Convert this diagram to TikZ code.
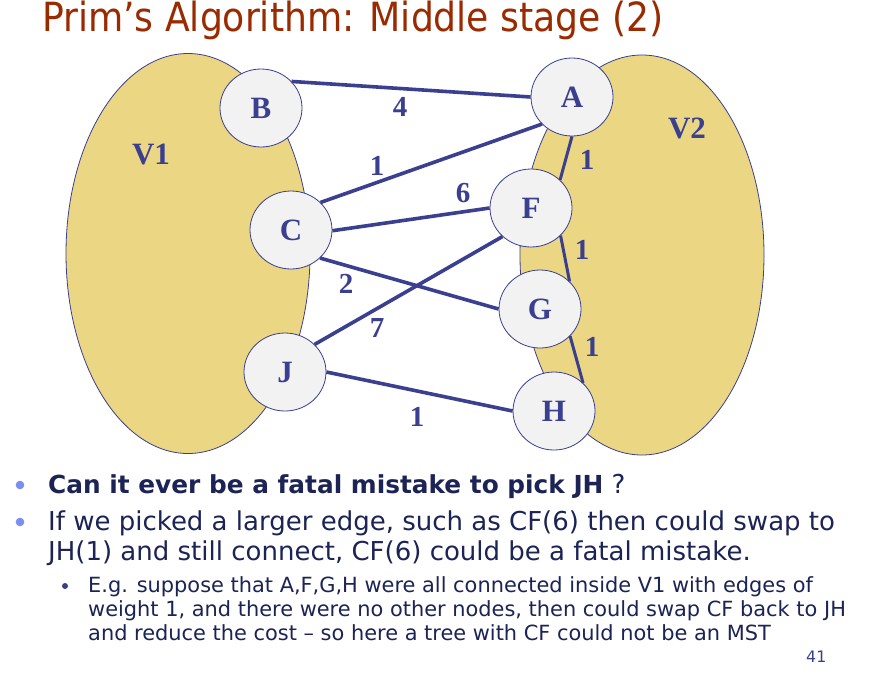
\documentclass[tikz,border=0pt]{standalone}
\usepackage{fontspec}
\setmainfont{DejaVu Sans}
\newfontfamily\titlefont{DejaVu Sans Condensed}
\newfontfamily\nodefont{Liberation Serif}
\usetikzlibrary{shapes.geometric}
\definecolor{setfill}{HTML}{EBD683}
\definecolor{navy}{HTML}{3B3F8F}
\definecolor{nodefill}{HTML}{F2F2F2}
\definecolor{titlecol}{HTML}{9A2A00}
\definecolor{txt}{HTML}{1C2355}
\definecolor{bul}{HTML}{7B8EF0}
\definecolor{subbul}{HTML}{3B3F80}
\tikzset{
  vert/.style={ellipse, draw=navy, line width=0.8pt, fill=nodefill, minimum width=82pt, minimum height=78pt, inner sep=0pt,
    font=\nodefont\bfseries\fontsize{31pt}{31pt}\selectfont, text=navy},
  edge/.style={draw=navy, line width=3.6pt},
  wlab/.style={font=\nodefont\bfseries\fontsize{29pt}{29pt}\selectfont, text=navy, inner sep=0pt},
  setlab/.style={font=\nodefont\bfseries\fontsize{31pt}{31pt}\selectfont, text=navy, inner sep=0pt},
  bigtxt/.style={anchor=base west, inner sep=0pt, text=txt, font=\fontsize{26pt}{30pt}\selectfont},
  smalltxt/.style={anchor=base west, inner sep=0pt, text=txt, font=\fontsize{20.9pt}{24pt}\selectfont},
}
\begin{document}
\begin{tikzpicture}[x=1pt,y=-1pt]
\useasboundingbox[fill=white] (0,0) rectangle (874,686);
% title
\node[anchor=base west, inner sep=0pt, text=titlecol, font=\titlefont\fontsize{40.2pt}{40pt}\selectfont] (title) at (42,31) {Prim’s Algorithm: Middle stage (2)};
% sets
\draw[navy, line width=0.8pt, fill=setfill] (188,253.5) ellipse [x radius=122, y radius=200];
\draw[navy, line width=0.8pt, fill=setfill] (642,255) ellipse [x radius=122, y radius=200];
\node[setlab] (V1) at (151,154) {V1};
\node[setlab] (V2) at (687,128) {V2};
% vertices
\node[vert] (B) at (261,108) {B};
\node[vert] (C) at (291,230) {C};
\node[vert] (J) at (285,372) {J};
\node[vert] (A) at (572,97) {A};
\node[vert] (F) at (531,208) {F};
\node[vert] (G) at (540,309) {G};
\node[vert] (H) at (554,411) {H};
% edges
\path[edge] (B.41) -- (A.180);
\path[edge] (C.43) -- (A.222);
\path[edge] (C.359) -- (F.180);
\path[edge] (C.316) -- (G.180);
\path[edge] (J.43) -- (F.225);
\path[edge] (J.0) -- (H.180);
\path[edge, line width=3pt] (A.270) -- (F.44);
\path[edge, line width=3pt] (F.317) -- (G.43);
\path[edge, line width=3pt] (G.318) -- (H.44);
% weights
\node[wlab] (wBA) at (400,107) {4};
\node[wlab] (wCA) at (377,166) {1};
\node[wlab] (wCF) at (463,193) {6};
\node[wlab] (wCG) at (346,284) {2};
\node[wlab] (wJF) at (377,328) {7};
\node[wlab] (wJH) at (417,417) {1};
\node[wlab] (wAF) at (587,160) {1};
\node[wlab] (wFG) at (582,250) {1};
\node[wlab] (wGH) at (592,347) {1};
% bullets
\fill[bul] (20,485) circle (4.3);
\fill[bul] (20,522) circle (4.3);
\fill[subbul] (65,586) circle (3);
\node[bigtxt] (l1) at (48,493) {{\fontsize{24.8pt}{30pt}\selectfont\bfseries Can it ever be a fatal mistake to pick JH} ?};
\node[bigtxt] (l2) at (48,530) {If we picked a larger edge, such as CF(6) then could swap to};
\node[bigtxt] (l3) at (48,560) {JH(1) and still connect, CF(6) could be a fatal mistake.};
\node[smalltxt] (s1) at (88,592) {E.g. suppose that A,F,G,H were all connected inside V1 with edges of};
\node[smalltxt] (s2) at (88,616) {weight 1, and there were no other nodes, then could swap CF back to JH};
\node[smalltxt] (s3) at (88,640) {and reduce the cost – so here a tree with CF could not be an MST};
\node[anchor=base west, inner sep=0pt, text=navy, font=\fontsize{15.8pt}{16pt}\selectfont] (pg) at (806,662) {41};
\end{tikzpicture}
\end{document}
